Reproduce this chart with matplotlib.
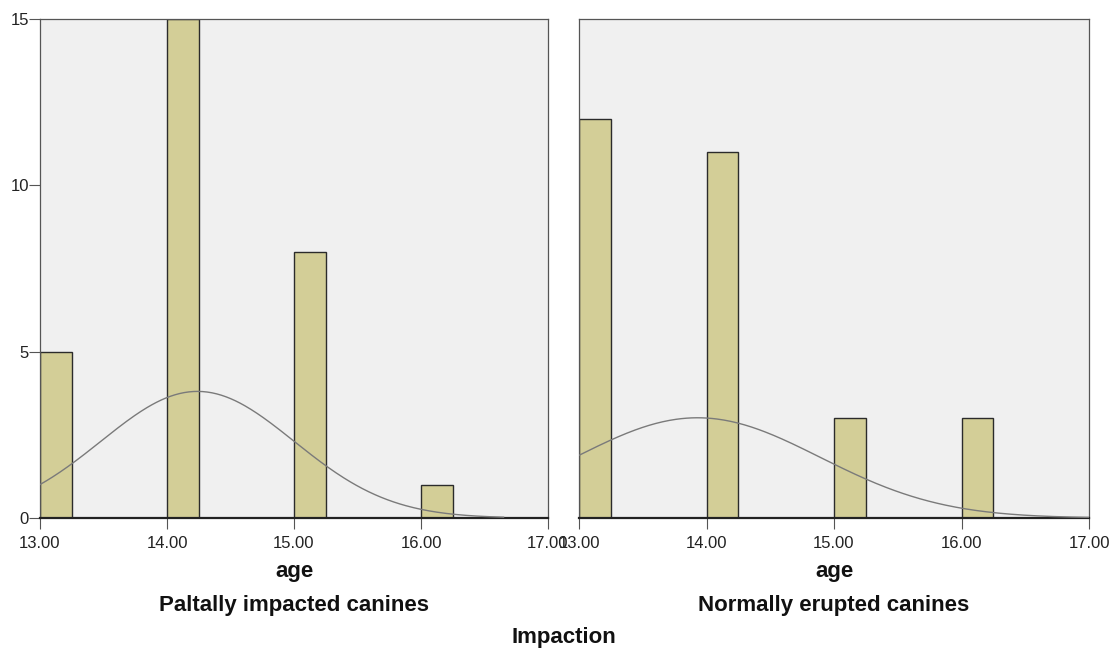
import matplotlib
matplotlib.use("Agg")
import matplotlib.pyplot as plt
import numpy as np

# histogram bins (lower edge of each age bin) and counts per group
bin_left = [13.0, 14.0, 15.0, 16.0]
bin_width = 0.25
counts_palatal = [5, 15, 8, 1]
counts_normal = [12, 11, 3, 3]

# fitted normal curve parameters (mean, sd, n, drawn up to)
fit_palatal = (14.24, 0.76, 29, 16.65)
fit_normal = (13.93, 0.96, 29, 17.0)

x_ticks = [13.0, 14.0, 15.0, 16.0, 17.0]
y_ticks = [0, 5, 10, 15]
group_names = ["Paltally impacted canines", "Normally erupted canines"]

BAR = "#d3ce97"
EDGE = "#2b2b2b"
PANEL = "#f0f0f0"
CURVE = "#7a7a7a"
TXT = "#222222"

plt.rcParams.update({"font.family": ["Liberation Sans", "DejaVu Sans"]})

fig = plt.figure(figsize=(11.12, 6.5), dpi=100)
ax_l = fig.add_axes([40 / 1112, 1 - 518 / 650, 508 / 1112, 499 / 650])
ax_r = fig.add_axes([579 / 1112, 1 - 518 / 650, 510 / 1112, 499 / 650])


def draw_panel(ax, counts, fit, name, show_y):
    ax.set_facecolor(PANEL)
    ax.bar(bin_left, counts, width=bin_width, align="edge", color=BAR,
           edgecolor=EDGE, linewidth=1.0, zorder=2)
    mu, sd, n, x_end = fit
    xs = np.linspace(13.0, x_end, 300)
    ys = n * bin_width / (sd * np.sqrt(2 * np.pi)) * np.exp(-0.5 * ((xs - mu) / sd) ** 2)
    ax.plot(xs, ys, color=CURVE, lw=1.0, zorder=3)
    ax.set_xlim(13.0, 17.0)
    ax.set_ylim(0, 15)
    ax.set_xticks(x_ticks)
    ax.set_xticklabels([f"{t:.2f}" for t in x_ticks], fontsize=12, color=TXT)
    ax.set_yticks(y_ticks)
    if show_y:
        ax.set_yticklabels([str(t) for t in y_ticks], fontsize=12, color=TXT)
        ax.tick_params(axis="y", length=8, width=0.8, color="#555555", pad=0)
    else:
        ax.tick_params(axis="y", length=0, labelleft=False)
    ax.tick_params(axis="x", length=8, width=0.8, color="#555555", pad=5)
    for side in ["left", "right", "top"]:
        ax.spines[side].set_color("#555555")
        ax.spines[side].set_linewidth(0.9)
    ax.spines["bottom"].set_color("#222222")
    ax.spines["bottom"].set_linewidth(1.6)
    pos = ax.get_position()
    cx = (pos.x0 + pos.x1) / 2
    fig.text(cx, 1 - 571 / 650, "age", ha="center", va="center",
             fontsize=16, fontweight="bold", color="#111111")
    fig.text(cx, 1 - 606 / 650, name, ha="center", va="center",
             fontsize=16, fontweight="bold", color="#111111")


draw_panel(ax_l, counts_palatal, fit_palatal, group_names[0], True)
draw_panel(ax_r, counts_normal, fit_normal, group_names[1], False)

fig.text(564 / 1112, 1 - 638 / 650, "Impaction", ha="center", va="center",
         fontsize=16, fontweight="bold", color="#111111")

fig.savefig("out.png", dpi=100)
